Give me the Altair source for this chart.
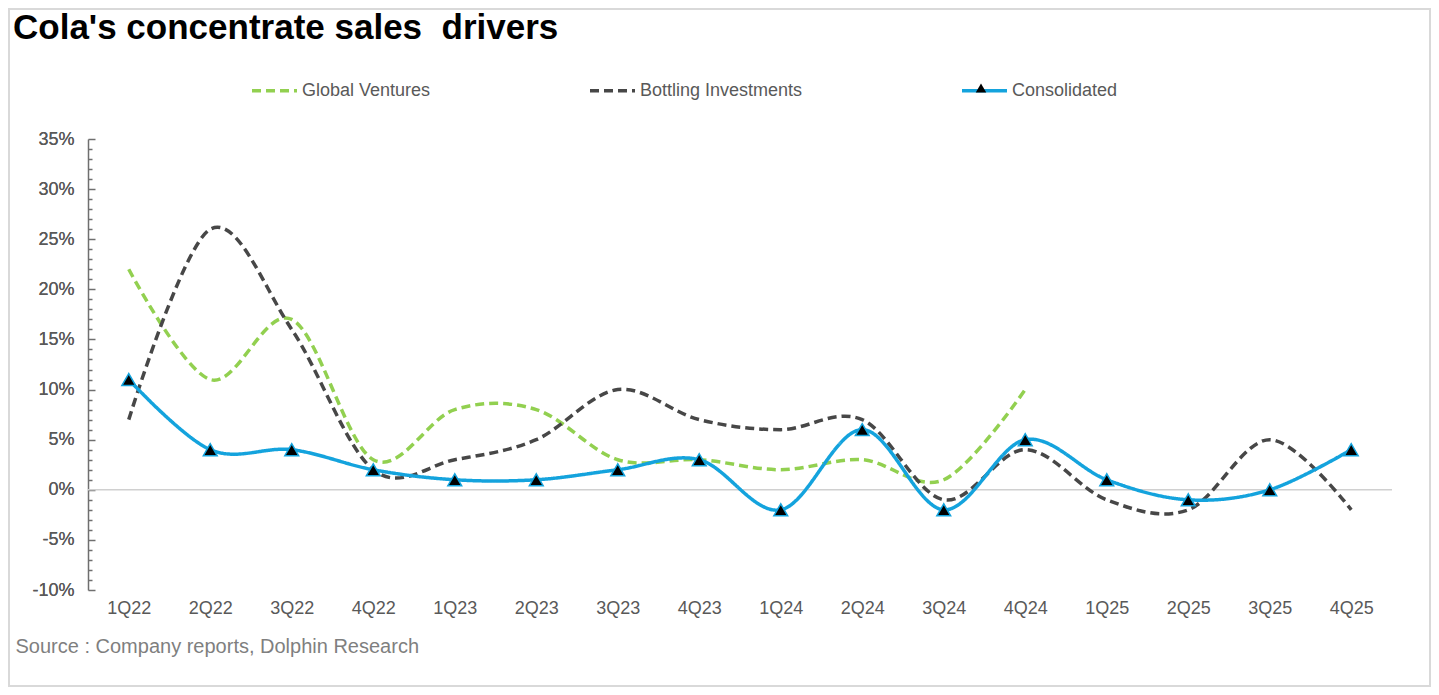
import altair as alt
import pandas as pd

quarters = ["1Q22", "2Q22", "3Q22", "4Q22", "1Q23", "2Q23", "3Q23", "4Q23",
            "1Q24", "2Q24", "3Q24", "4Q24", "1Q25", "2Q25", "3Q25", "4Q25"]
global_ventures = [22, 11, 17, 3, 8, 8, 3, 3, 2, 3, 1, 10]
bottling = [7, 26, 16, 2, 3, 5, 10, 7, 6, 7, -1, 4, -1, -2, 5, -2]
consolidated = [11, 4, 4, 2, 1, 1, 2, 3, -2, 6, -2, 5, 1, -1, 0, 4]
series_names = ["Global Ventures", "Bottling Investments", "Consolidated"]
series_colors = ["#92D050", "#474747", "#14A3DD"]
title_text = ["Cola's concentrate sales\u00a0 drivers"]
source_text = "Source : Company reports, Dolphin Research"

rows = []
for name, vals in zip(series_names, [global_ventures, bottling, consolidated]):
    for i, (q, v) in enumerate(zip(quarters, vals)):
        rows.append({"quarter": q, "idx": i, "series": name, "value": v})
df = pd.DataFrame(rows)
cons_df = df[df["series"] == "Consolidated"].rename(columns={"series": "marker"})
zero_df = pd.DataFrame({"value": [0]})
title_df = pd.DataFrame({"t": title_text})
frame_df = pd.DataFrame({"f": [1]})

FONT = "Liberation Sans"
W, H = 1304, 451
BLUE = series_colors[2]

x_enc = alt.X(
    "quarter:N", sort=quarters,
    scale=alt.Scale(type="point", padding=0.5, domain=quarters),
    axis=alt.Axis(
        labelFontSize=18, labelColor="#595959", labelFont=FONT, labelPadding=9,
        ticks=False, domain=False, labelAngle=0, grid=False,
        title=source_text,
        titleFontSize=20, titleColor="#7f7f7f", titleFont=FONT, titleFontWeight="normal",
        titleAnchor="start", titleAlign="left", titleX=-73, titleY=62,
        titleBaseline="alphabetic",
    ),
)
y_scale = alt.Scale(domain=[-10, 35], nice=False, zero=False)
y_main = alt.Y(
    "value:Q", scale=y_scale,
    axis=alt.Axis(
        orient="left", values=list(range(-10, 40, 5)), labelExpr="datum.value + '%'",
        ticks=False, domain=False,
        labelFontSize=18, labelColor="#595959", labelFont=FONT, labelPadding=14,
        grid=False, title=None,
    ),
)
# tick axis: right-oriented axis moved onto the left edge so ticks point inward
y_ticks = alt.Y(
    "value:Q", scale=y_scale,
    axis=alt.Axis(
        orient="right", values=list(range(-10, 36)), labels=False,
        domain=True, domainColor="#6f6f6f", domainWidth=1.5,
        ticks=True,
        tickSize={"condition": {"test": "datum.value % 5 === 0", "value": 7}, "value": 4},
        tickColor="#6f6f6f", tickWidth=1.5, offset=-W,
        grid=False, title=None,
    ),
)

frame = alt.Chart(frame_df).mark_rect(
    filled=False, stroke="#d9d9d9", strokeWidth=2, fill=None
).encode(
    x=alt.value(-79), x2=alt.value(W + 38), y=alt.value(-130), y2=alt.value(H + 96)
)

zero_rule = alt.Chart(zero_df).mark_rule(color="#d0d0d0", strokeWidth=1.5).encode(y=y_ticks)

legend_common = dict(
    orient="none", legendX=162, legendY=-73, direction="horizontal", columns=3,
    columnPadding=152, symbolType="stroke", symbolSize=2025, symbolStrokeWidth=3.5,
    labelFontSize=18, labelColor="#595959", labelFont=FONT, labelOffset=3,
    title=None, padding=0, labelLimit=0,
)

lines = alt.Chart(df).mark_line(interpolate="cardinal", tension=0, strokeWidth=3.5).encode(
    x=x_enc,
    y=y_main,
    color=alt.Color(
        "series:N", sort=series_names,
        scale=alt.Scale(domain=series_names, range=series_colors),
        legend=alt.Legend(**legend_common),
    ),
    strokeDash=alt.StrokeDash(
        "series:N", sort=series_names,
        scale=alt.Scale(domain=series_names, range=[[9, 5], [9, 5], [1, 0]]),
        legend=alt.Legend(**legend_common),
    ),
    order=alt.Order("idx:Q"),
)

points = alt.Chart(cons_df).mark_point(
    filled=True, fill="black", stroke=BLUE,
    strokeWidth=1.5, size=190, opacity=1,
).encode(
    x=x_enc, y=y_main,
    shape=alt.Shape(
        "marker:N",
        scale=alt.Scale(domain=["Consolidated"], range=["triangle-up"]),
        legend=alt.Legend(
            orient="none", legendX=887, legendY=-57, title=None, padding=0,
            labelExpr="''", labelFontSize=1, labelOffset=0,
            symbolFillColor="black", symbolStrokeColor=BLUE, symbolStrokeWidth=1.5,
            symbolSize=110,
        ),
    ),
)

title_mark = alt.Chart(title_df).mark_text(
    align="left", baseline="alphabetic", font=FONT, fontSize=35, fontWeight="bold",
    color="black",
).encode(x=alt.value(-75), y=alt.value(-100), text="t:N")

chart = alt.layer(frame, zero_rule, lines, points, title_mark).resolve_scale(y="shared").resolve_axis(y="independent").properties(
    width=W, height=H,
    padding={"left": 80, "top": 131, "right": 39, "bottom": 97},
    autosize=alt.AutoSizeParams(type="none"),
    background="white",
).configure_view(stroke=None)

chart.save("out.html", embed_options={"renderer": "svg", "actions": False})
